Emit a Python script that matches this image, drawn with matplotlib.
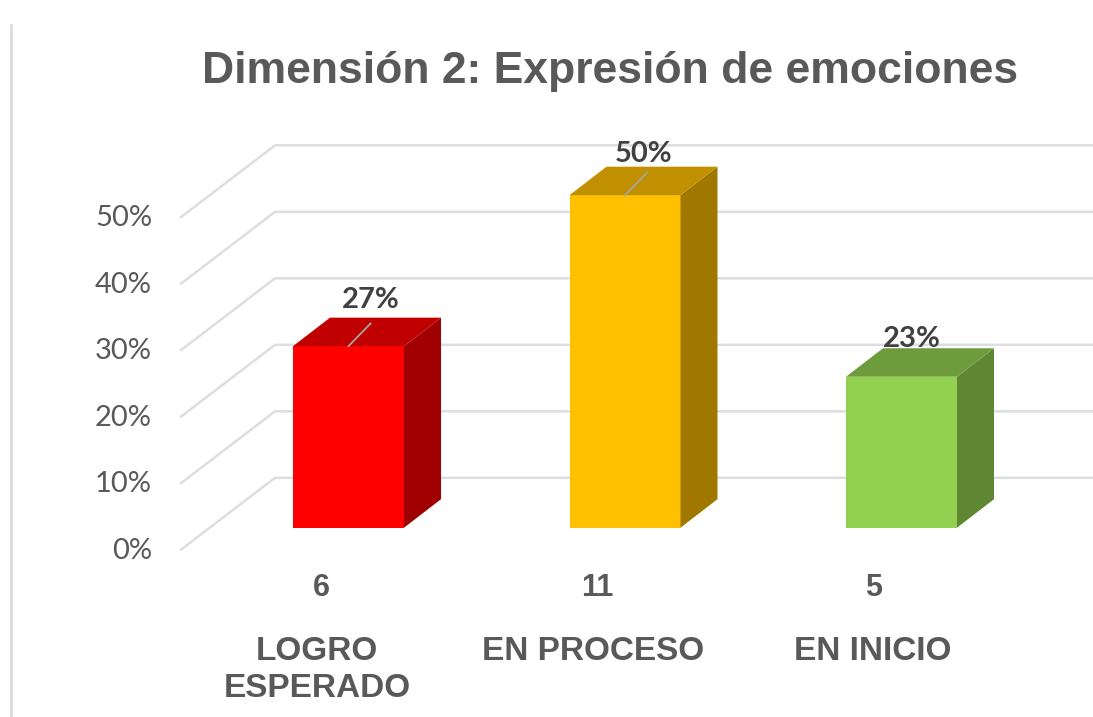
import numpy as np
import matplotlib.pyplot as plt
from matplotlib.patches import Polygon

title = "Dimensión 2: Expresión de emociones"
categories = ["LOGRO\nESPERADO", "EN PROCESO", "EN INICIO"]
counts = [6, 11, 5]
values = [27.3, 50, 22.7]
value_labels = ["27%", "50%", "23%"]
y_ticks = [0, 10, 20, 30, 40, 50]
y_tick_labels = ["0%", "10%", "20%", "30%", "40%", "50%"]

front_colors = ["#ff0000", "#ffc000", "#92d050"]
top_colors = ["#c00000", "#c09000", "#6e9c3c"]
side_colors = ["#a00000", "#a07800", "#5f8632"]

# one x unit = 276.5 px, one y unit = 6.65 px
PX_X = 276.5
PX_Y = 6.65
X0 = 348.5
Y0 = 527.7
W = 1093
H = 717

bar_w = 111 / PX_X
depth_x = 37 / PX_X
depth_y = 28.5 / PX_Y

# where the walls of the fake 3d box sit
wall_x0 = (181 - X0) / PX_X
wall_x1 = (275 - X0) / PX_X
wall_x2 = (W - X0) / PX_X
wall_y0 = -3.3
wall_y1 = 7.5

# data labels were moved by hand in the original, so offsets per bar (px)
label_dx = [22.5, 19, 10]
label_dy = [46, 41, 38]

fig = plt.figure(figsize=(W / 100, H / 100), dpi=100)
ax = fig.add_axes([0, 0, 1, 1])
ax.set_xlim(-X0 / PX_X, (W - X0) / PX_X)
ax.set_ylim(-(H - Y0) / PX_Y, Y0 / PX_Y)
ax.axis("off")

# left border of the pasted picture
ax.plot([(11 - X0) / PX_X] * 2, [(Y0 - 25) / PX_Y, -(H - Y0) / PX_Y], color="#d9d9d9", lw=1.8, zorder=1)

for t, lab in zip(y_ticks, y_tick_labels):
    ax.plot([wall_x0, wall_x1, wall_x2], [t + wall_y0, t + wall_y1, t + wall_y1],
            color="#dedede", lw=1.8, zorder=1, solid_joinstyle="miter")
    ax.text((152 - X0) / PX_X, t + wall_y0 - 0.2, lab, ha="right", va="center",
            fontsize=21, family="Lato", color="#595959")

for i, v in enumerate(values):
    x1 = i - bar_w / 2
    x2 = i + bar_w / 2
    ax.add_patch(Polygon([(x1, 0), (x2, 0), (x2, v), (x1, v)], color=front_colors[i], lw=0, zorder=3))
    ax.add_patch(Polygon([(x2, 0), (x2 + depth_x, depth_y), (x2 + depth_x, v + depth_y), (x2, v)],
                         color=side_colors[i], lw=0, zorder=3))
    ax.add_patch(Polygon([(x1, v), (x2, v), (x2 + depth_x, v + depth_y), (x1 + depth_x, v + depth_y)],
                         color=top_colors[i], lw=0, zorder=3))

    lx = i + label_dx[i] / PX_X
    ly = v + label_dy[i] / PX_Y
    ax.text(lx, ly, value_labels[i], ha="center", va="center", fontsize=21, family="Lato",
            fontweight="bold", color="#404040", zorder=5)
    # leader lines, only the first two have one
    if i < 2:
        ax.plot([i, i + 22 / PX_X], [v, v + 3.4], color="#a6a6a6", lw=1.3, zorder=4)

    ax.text(i - 27.5 / PX_X, (Y0 - 588) / PX_Y, str(counts[i]), ha="center", va="center",
            fontsize=22, family="Liberation Sans", fontweight="bold", color="#595959")

cat_dx = [-31.5, -32, -29]
for i, c in enumerate(categories):
    ax.text(i + cat_dx[i] / PX_X, (Y0 - 636) / PX_Y, c, ha="center", va="top", fontsize=24,
            family="Liberation Sans", fontweight="bold", color="#595959", linespacing=1.24)

ax.text((610 - X0) / PX_X, (Y0 - 71) / PX_Y, title, ha="center", va="center", fontsize=32,
        family="Liberation Sans", fontweight="bold", color="#595959")

fig.savefig("out.png", dpi=100)
